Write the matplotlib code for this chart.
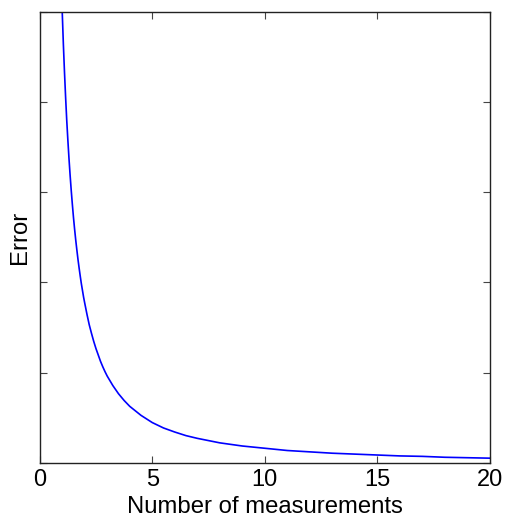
import matplotlib
matplotlib.use('Agg')
import matplotlib.pyplot as plt

# values (y axis runs 0..1, unlabelled)
n_meas = [0.95, 1.0, 1.05, 1.1, 1.15, 1.2, 1.25, 1.3, 1.35, 1.4, 1.45,
          1.5, 1.55, 1.6, 1.65, 1.7, 1.75, 1.8, 1.85, 1.9, 1.95, 2.0,
          2.1, 2.2, 2.3, 2.4, 2.5, 2.6, 2.7, 2.8, 2.9, 3.0, 3.25, 3.5,
          3.75, 4.0, 4.5, 5.0, 5.5, 6.0, 6.5, 7.0, 8.0, 9.0, 10.0, 11.0,
          12.0, 13.0, 14.0, 15.0, 16.0, 17.0, 18.0, 19.0, 20.0]
error = [1.08, 1.0, 0.929, 0.867, 0.811, 0.76, 0.716, 0.675, 0.638, 0.604,
         0.573, 0.544, 0.518, 0.494, 0.472, 0.451, 0.432, 0.414, 0.397,
         0.382, 0.367, 0.354, 0.329, 0.306, 0.287, 0.269, 0.253, 0.239,
         0.225, 0.213, 0.202, 0.192, 0.171, 0.153, 0.138, 0.125, 0.105,
         0.089, 0.077, 0.068, 0.060, 0.054, 0.044, 0.037, 0.032, 0.027,
         0.024, 0.021, 0.019, 0.017, 0.015, 0.014, 0.012, 0.011, 0.010]
x_ticks = [0, 5, 10, 15, 20]
y_ticks = [0, 0.2, 0.4, 0.6, 0.8, 1.0]

plt.rcParams['font.family'] = ['Liberation Sans', 'DejaVu Sans']

fig = plt.figure(figsize=(5.06, 5.18), dpi=100)
ax = fig.add_axes([0.0785, 0.1068, 0.8895, 0.8702])
ax.plot(n_meas, error, color='b', linewidth=1.2)
ax.set_xlim(0, 20)
ax.set_ylim(0, 1)
ax.set_xticks(x_ticks)
ax.set_yticks(y_ticks)
ax.set_yticklabels([])
ax.tick_params(direction='in', length=5, width=0.8, color='#444444',
               top=True, right=True, labelsize=17, pad=4.5)
for s in ax.spines.values():
    s.set_linewidth(1.0)
    s.set_color('#222222')
ax.set_xlabel('Number of measurements', fontsize=17.2, labelpad=4)
ax.set_ylabel('Error', fontsize=17.2, labelpad=1.5)

fig.savefig('out.png', dpi=100)
